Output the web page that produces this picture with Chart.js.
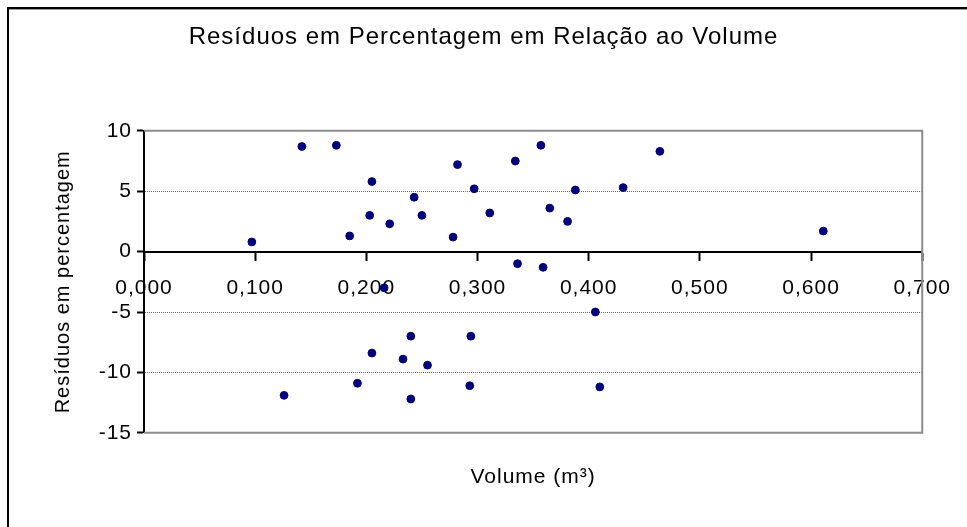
<!DOCTYPE html>
<html>
<head>
<meta charset="utf-8">
<script src="https://cdn.jsdelivr.net/npm/chart.js@4"></script>
<style>
  body { margin: 0; background: #fff; }
  #grafico { display: block; }
</style>
</head>
<body>
<canvas id="grafico" width="967" height="527"></canvas>
<script>
// volume (m3) e residuo (%) de cada arvore
const volume = [0.097, 0.126, 0.142, 0.173, 0.185, 0.192, 0.203, 0.205, 0.205, 0.216,
                0.221, 0.233, 0.240, 0.240, 0.243, 0.250, 0.255, 0.278, 0.282, 0.293,
                0.294, 0.297, 0.311, 0.334, 0.336, 0.357, 0.359, 0.365, 0.381, 0.388,
                0.406, 0.410, 0.431, 0.464, 0.611];
const residuo = [0.8, -11.9, 8.7, 8.8, 1.3, -10.9, 3.0, 5.8, -8.4, -3.0,
                 2.3, -8.9, -7.0, -12.2, 4.5, 3.0, -9.4, 1.2, 7.2, -11.1,
                 -7.0, 5.2, 3.2, 7.5, -1.0, 8.8, -1.3, 3.6, 2.5, 5.1,
                 -5.0, -11.2, 5.3, 8.3, 1.7];
const yTicks = [-15, -10, -5, 0, 5, 10];
const xTicks = [0, 0.1, 0.2, 0.3, 0.4, 0.5, 0.6, 0.7];

const fonte = "'Liberation Sans', Arial, sans-serif";

// espacamento das letras como no excel
const espacamento = {
  id: 'espacamento',
  beforeUpdate(chart) { chart.ctx.letterSpacing = '1px'; },
  beforeDraw(chart) { chart.ctx.letterSpacing = '1px'; }
};

// moldura do grafico e da area de plotagem
const moldura = {
  id: 'moldura',
  beforeDraw(chart) {
    const ctx = chart.ctx;
    ctx.save();
    ctx.fillStyle = '#fff';
    ctx.fillRect(0, 0, chart.width, chart.height);
    ctx.fillStyle = '#000';
    ctx.fillRect(7, 7, chart.width - 7, 2);
    ctx.fillRect(7, 7, 2, chart.height - 7);
    ctx.fillStyle = '#999';
    ctx.fillRect(9, 9, chart.width - 9, 1);
    ctx.restore();
  },
  beforeDatasetsDraw(chart) {
    const {ctx, chartArea: a} = chart;
    ctx.save();
    ctx.strokeStyle = '#8c8c8c';
    ctx.lineWidth = 2;
    ctx.beginPath();
    ctx.moveTo(a.left, a.top);
    ctx.lineTo(a.right, a.top);
    ctx.lineTo(a.right, a.bottom);
    ctx.lineTo(a.left, a.bottom);
    ctx.stroke();
    ctx.restore();
  }
};

const ctx = document.getElementById('grafico');
new Chart(ctx, {
  type: 'scatter',
  data: {
    datasets: [{
      label: 'Resíduos',
      data: volume.map((v, i) => ({x: v, y: residuo[i]})),
      backgroundColor: '#000080',
      borderColor: '#000080',
      pointRadius: 3.9,
      pointHoverRadius: 3.9
    }]
  },
  options: {
    responsive: false,
    animation: false,
    layout: {
      padding: {top: 10, left: 43, right: 43, bottom: 10}
    },
    scales: {
      x: {
        type: 'linear',
        position: {y: 0},
        min: 0,
        max: 0.7,
        afterBuildTicks: s => { s.ticks = xTicks.map(v => ({value: v})); },
        ticks: {
          padding: 16,
          color: '#000',
          font: {family: fonte, size: 21},
          maxRotation: 0,
          callback: v => v.toFixed(3).replace('.', ',')
        },
        grid: {
          drawOnChartArea: false,
          tickLength: 8,
          tickColor: '#000',
          tickWidth: 2
        },
        border: {color: '#000', width: 2}
      },
      y: {
        min: -15,
        max: 10,
        afterBuildTicks: s => { s.ticks = yTicks.map(v => ({value: v})); },
        afterFit: s => { s.width = 101; },
        ticks: {
          padding: 5,
          color: '#000',
          font: {family: fonte, size: 21}
        },
        grid: {
          color: c => (c.tick && (c.tick.value === 10 || c.tick.value === -15 || c.tick.value === 0)) ? 'rgba(0,0,0,0)' : '#666',
          lineWidth: 1,
          tickLength: 7,
          tickColor: '#000',
          tickWidth: 2
        },
        border: {color: '#000', width: 2, dash: [1, 1]},
        title: {
          display: true,
          text: 'Resíduos em percentagem',
          color: '#000',
          font: {family: fonte, size: 20},
          padding: {top: 8, bottom: 0}
        }
      }
    },
    plugins: {
      legend: {display: false},
      tooltip: {enabled: false},
      title: {
        display: true,
        text: 'Resíduos em Percentagem em Relação ao Volume',
        color: '#000',
        font: {family: fonte, size: 24, weight: 'normal'},
        padding: {top: 13, bottom: 79}
      },
      subtitle: {
        display: true,
        position: 'bottom',
        fullSize: false,
        text: 'Volume (m³)',
        color: '#000',
        font: {family: fonte, size: 21},
        padding: {top: 32, bottom: 27}
      }
    }
  },
  plugins: [espacamento, moldura]
});
</script>
</body>
</html>
